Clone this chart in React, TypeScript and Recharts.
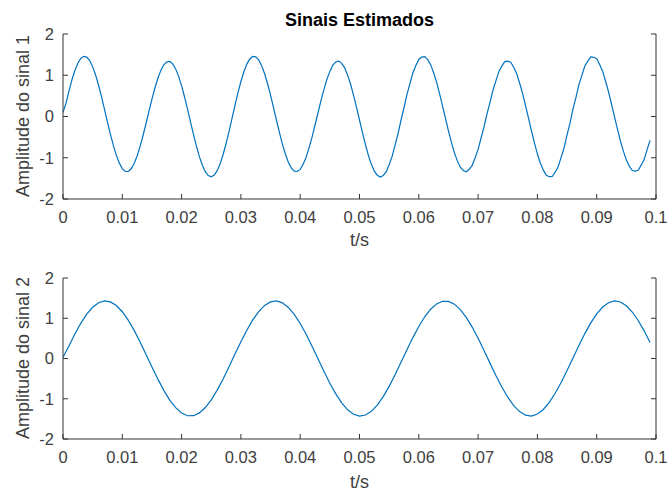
import React from 'react';
import { LineChart, Line, XAxis, YAxis } from 'recharts';

// signal 1 read every 0.5 ms, signal 2 every 1 ms
const STEP1 = 0.0005;
const STEP2 = 0.001;

const sinal1 = [
  0.1, 0.315, 0.615, 0.886, 1.115, 1.292, 1.408, 1.458, 1.441, 1.356,
  1.208, 1.005, 0.757, 0.475, 0.173, -0.134, -0.432, -0.706, -0.943, -1.131,
  -1.263, -1.331, -1.333, -1.268, -1.141, -0.957, -0.726, -0.46, -0.17, 0.128,
  0.419, 0.69, 0.927, 1.118, 1.254, 1.328, 1.335, 1.276, 1.154, 0.973,
  0.742, 0.473, 0.178, -0.129, -0.433, -0.718, -0.972, -1.183, -1.339, -1.433,
  -1.46, -1.419, -1.312, -1.144, -0.921, -0.655, -0.359, -0.046, 0.27, 0.572,
  0.849, 1.084, 1.27, 1.394, 1.455, 1.446, 1.372, 1.232, 1.037, 0.794,
  0.517, 0.216, -0.091, -0.39, -0.669, -0.91, -1.108, -1.245, -1.325, -1.333,
  -1.282, -1.158, -0.987, -0.756, -0.499, -0.206, 0.085, 0.386, 0.653, 0.903,
  1.094, 1.245, 1.321, 1.344, 1.289, 1.18, 1.002, 0.781, 0.513, 0.222,
  -0.085, -0.39, -0.679, -0.941, -1.156, -1.325, -1.423, -1.468, -1.429, -1.341,
  -1.171, -0.967, -0.696, -0.415, -0.091, 0.212, 0.531, 0.798, 1.054, 1.234,
  1.382, 1.439, 1.453, 1.377, 1.257, 1.061, 0.832, 0.554, 0.26, -0.048,
  -0.349, -0.628, -0.879, -1.076, -1.231, -1.308, -1.339, -1.28, -1.184, -0.999,
  -0.797, -0.521, -0.254, 0.062, 0.337, 0.636, 0.864, 1.088, 1.221, 1.331,
  1.34, 1.315, 1.195, 1.042, 0.812, 0.561, 0.264, -0.038, -0.347, -0.641,
  -0.904, -1.134, -1.3, -1.424, -1.459, -1.454, -1.35, -1.218, -0.99, -0.758,
  -0.446, -0.161, 0.181, 0.463, 0.774, 0.997, 1.223, 1.342, 1.445, 1.435,
  1.4, 1.261, 1.099, 0.855, 0.599, 0.297, -0.003, -0.307, -0.592, -0.841,
  -1.057, -1.202, -1.31, -1.322, -1.304, -1.18, -1.042, -0.803, -0.578,
];

const sinal2 = [
  0.03, 0.311, 0.607, 0.874, 1.1, 1.272, 1.384, 1.429, 1.406, 1.315,
  1.162, 0.953, 0.698, 0.41, 0.102, -0.21, -0.513, -0.791, -1.032, -1.222,
  -1.354, -1.422, -1.421, -1.352, -1.219, -1.027, -0.786, -0.507, -0.204, 0.109,
  0.416, 0.704, 0.958, 1.166, 1.318, 1.407, 1.429, 1.382, 1.269, 1.095,
  0.869, 0.602, 0.305, -0.006, -0.317, -0.613, -0.879, -1.104, -1.275, -1.385,
  -1.429, -1.405, -1.313, -1.159, -0.948, -0.693, -0.404, -0.096, 0.217, 0.519,
  0.796, 1.036, 1.225, 1.356, 1.422, 1.42, 1.35, 1.215, 1.022, 0.781,
  0.501, 0.198, -0.115, -0.422, -0.709, -0.962, -1.169, -1.32, -1.408, -1.429,
  -1.381, -1.266, -1.091, -0.864, -0.596, -0.299, 0.012, 0.323, 0.619, 0.884,
  1.108, 1.278, 1.387, 1.429, 1.404, 1.311, 1.155, 0.944, 0.687, 0.398,
];

const xTicks = [0, 0.01, 0.02, 0.03, 0.04, 0.05, 0.06, 0.07, 0.08, 0.09, 0.1];
const yTicks = [-2, -1, 0, 1, 2];

const dados1 = sinal1.map((v, i) => ({ t: i * STEP1, y: v }));
const dados2 = sinal2.map((v, i) => ({ t: i * STEP2, y: v }));

const AXIS = '#333333';
const FONT = '"Liberation Sans", Arial, sans-serif';
const blank = () => '';
const fmtX = (v: number) => String(+v.toFixed(2));

const Painel = ({ data, top, margin }: { data: { t: number; y: number }[]; top: number; margin: any }) => (
  <div style={{ position: 'absolute', left: 0, top }}>
    <LineChart width={668} height={246} data={data} margin={margin}>
      <XAxis
        xAxisId="b"
        type="number"
        dataKey="t"
        domain={[0, 0.1]}
        ticks={xTicks}
        tickFormatter={fmtX}
        height={30}
        tickSize={-5}
        tickMargin={17}
        stroke={AXIS}
        tick={{ fill: '#404040', fontSize: 16.5, fontFamily: FONT }}
        interval={0}
        allowDataOverflow
      />
      <XAxis
        xAxisId="t"
        orientation="top"
        type="number"
        dataKey="t"
        domain={[0, 0.1]}
        ticks={xTicks}
        tickFormatter={blank}
        height={0}
        tickSize={-5}
        stroke={AXIS}
        interval={0}
        allowDataOverflow
      />
      <YAxis
        yAxisId="l"
        domain={[-2, 2]}
        ticks={yTicks}
        width={40}
        tickSize={-5}
        tickMargin={14}
        stroke={AXIS}
        tick={{ fill: '#404040', fontSize: 16.5, fontFamily: FONT }}
        interval={0}
        allowDataOverflow
      />
      <YAxis
        yAxisId="r"
        orientation="right"
        domain={[-2, 2]}
        ticks={yTicks}
        tickFormatter={blank}
        width={1}
        tickSize={-5}
        stroke={AXIS}
        interval={0}
        allowDataOverflow
      />
      <Line
        xAxisId="b"
        yAxisId="l"
        dataKey="y"
        type="linear"
        stroke="#0072BD"
        strokeWidth={1.2}
        dot={false}
        isAnimationActive={false}
      />
    </LineChart>
  </div>
);

export default function App() {
  return (
    <div style={{ position: 'fixed', left: 0, top: 0, width: 668, height: 492, background: '#fff', fontFamily: FONT }}>
      <Painel data={dados1} top={0} margin={{ top: 34, right: 11, bottom: 17, left: 23 }} />
      <Painel data={dados2} top={246} margin={{ top: 32, right: 11, bottom: 23, left: 23 }} />
      <svg width={668} height={492} style={{ position: 'absolute', left: 0, top: 0, pointerEvents: 'none' }}>
        <text x={359.5} y={26} textAnchor="middle" fontSize={18} fontWeight="bold" fill="#000" fontFamily={FONT}>
          Sinais Estimados
        </text>
        <text x={359.5} y={246} textAnchor="middle" fontSize={18} fill="#404040" fontFamily={FONT}>
          t/s
        </text>
        <text x={359.5} y={488} textAnchor="middle" fontSize={18} fill="#404040" fontFamily={FONT}>
          t/s
        </text>
        <text transform="translate(29,116) rotate(-90)" textAnchor="middle" fontSize={18} fill="#404040" fontFamily={FONT}>
          Amplitude do sinal 1
        </text>
        <text transform="translate(29,358) rotate(-90)" textAnchor="middle" fontSize={18} fill="#404040" fontFamily={FONT}>
          Amplitude do sinal 2
        </text>
      </svg>
    </div>
  );
}
